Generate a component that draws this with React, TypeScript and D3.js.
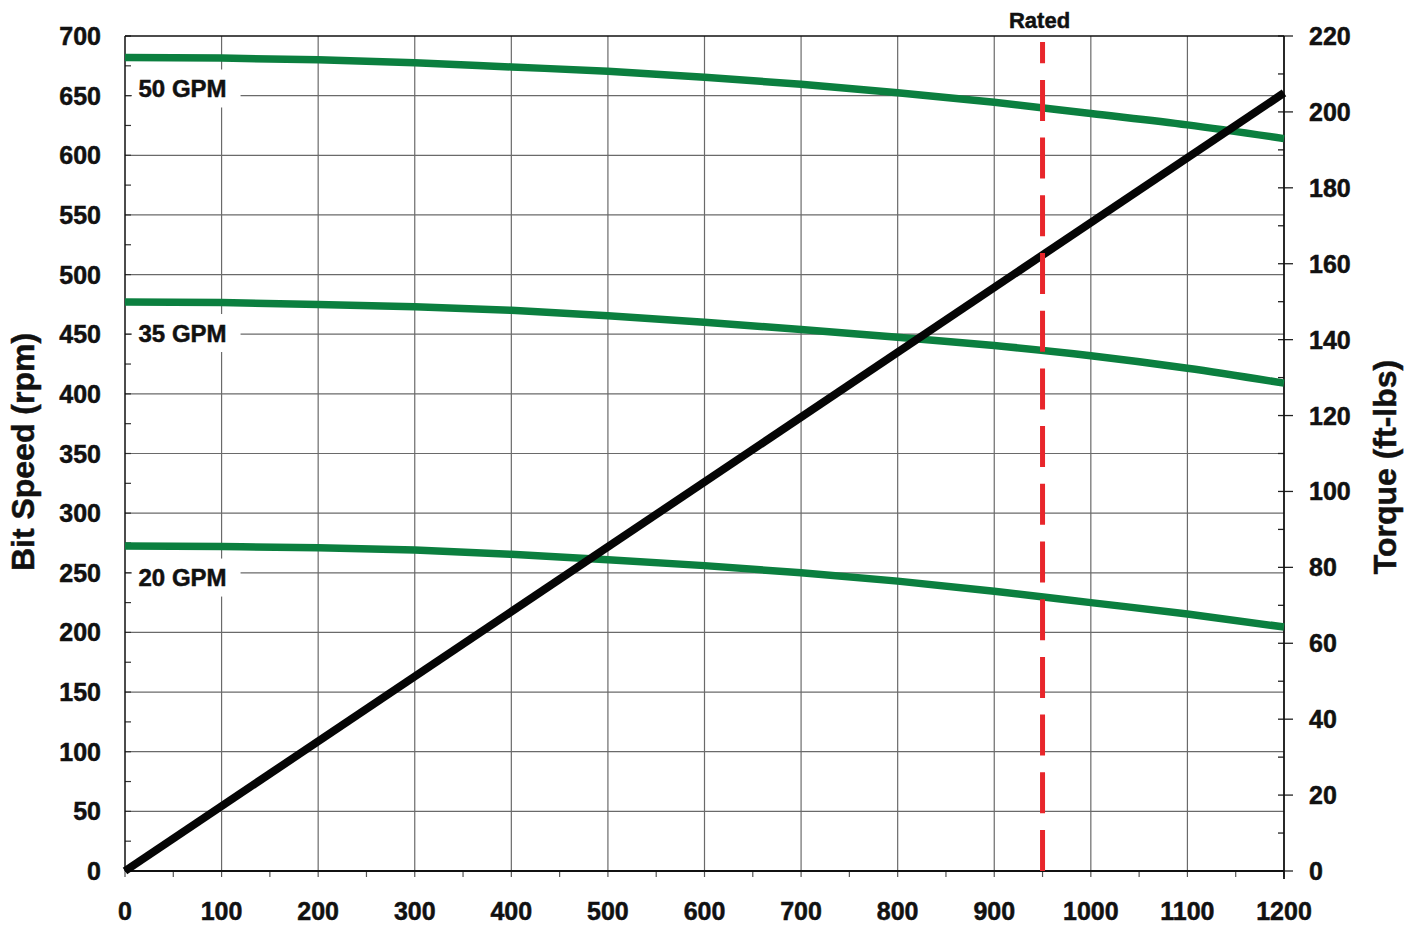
import React, { useEffect, useRef } from "react";
import * as d3 from "d3";

const flowX = [0, 100, 200, 300, 400, 500, 600, 700, 800, 900, 1000, 1100, 1200];
const gpm50 = [682, 681.5, 680, 677.5, 674, 670.5, 665.5, 659.5, 652.5, 644.5, 635, 625.5, 614];
const gpm35 = [477, 476.5, 475, 473, 470, 465.5, 460, 454, 447.5, 440.5, 432, 421.5, 409];
const gpm20 = [272.5, 272, 271, 269, 265.5, 261, 256, 250, 243, 234.5, 225, 215.5, 204.5];
const torqueX = [0, 1200];
const torqueY = [0, 205];
const ratedX = 950;
const ratedTop = 695;
const seriesLabels = ["50 GPM", "35 GPM", "20 GPM"];
const labelValues = [656, 451, 246];
const xTicks = [0, 100, 200, 300, 400, 500, 600, 700, 800, 900, 1000, 1100, 1200];
const yLeftTicks = [0, 50, 100, 150, 200, 250, 300, 350, 400, 450, 500, 550, 600, 650, 700];
const yRightTicks = [0, 20, 40, 60, 80, 100, 120, 140, 160, 180, 200, 220];

const W = 1413;
const H = 925;
const FONT = "'Liberation Sans', Arial, sans-serif";

export default function App() {
  const ref = useRef<SVGSVGElement>(null);
  useEffect(() => {
    const svg = d3.select(ref.current);
    svg.selectAll("*").remove();
    const L = 125, R = 1284, T = 36, B = 871;
    const x = d3.scaleLinear().domain([0, 1200]).range([L, R]);
    const y = d3.scaleLinear().domain([0, 700]).range([B, T]);
    const y2 = d3.scaleLinear().domain([0, 220]).range([B, T]);

    const txt = (sel: any, size: number) =>
      sel.attr("font-family", FONT).attr("font-weight", "bold").attr("font-size", size)
        .attr("fill", "#111").attr("stroke", "#111").attr("stroke-width", 0.5);

    const g = svg.append("g");
    // grid
    g.selectAll(".vg").data(xTicks.filter(v => v > 0 && v < 1200)).enter().append("line")
      .attr("x1", d => x(d)).attr("x2", d => x(d)).attr("y1", T).attr("y2", B)
      .attr("stroke", "#6a6a6a").attr("stroke-width", 1.2);
    g.selectAll(".hg").data(yLeftTicks.filter(v => v > 0 && v < 700)).enter().append("line")
      .attr("x1", L).attr("x2", R).attr("y1", d => y(d)).attr("y2", d => y(d))
      .attr("stroke", "#6a6a6a").attr("stroke-width", 1.2);

    // left minor/major ticks (inside)
    g.selectAll(".lt").data(d3.range(0, 701, 25)).enter().append("line")
      .attr("x1", L).attr("x2", L + 6).attr("y1", d => y(d)).attr("y2", d => y(d))
      .attr("stroke", "#333").attr("stroke-width", 1.2);
    // bottom ticks (outside)
    g.selectAll(".bt").data(d3.range(0, 1201, 50)).enter().append("line")
      .attr("x1", d => x(d)).attr("x2", d => x(d)).attr("y1", B).attr("y2", B + 6)
      .attr("stroke", "#555").attr("stroke-width", 1.2);
    // right ticks
    g.selectAll(".rtm").data(d3.range(0, 221, 10)).enter().append("line")
      .attr("x1", R - 6).attr("x2", d => (d % 20 === 0 ? R + 9 : R)).attr("y1", d => y2(d)).attr("y2", d => y2(d))
      .attr("stroke", "#222").attr("stroke-width", 1.3);

    // frame
    g.append("line").attr("x1", L).attr("x2", R).attr("y1", T).attr("y2", T).attr("stroke", "#111").attr("stroke-width", 1.3);
    g.append("line").attr("x1", L).attr("x2", L).attr("y1", T).attr("y2", B).attr("stroke", "#111").attr("stroke-width", 1.5);
    g.append("line").attr("x1", L).attr("x2", R).attr("y1", B).attr("y2", B).attr("stroke", "#111").attr("stroke-width", 1.8);
    g.append("line").attr("x1", R).attr("x2", R).attr("y1", T).attr("y2", B + 8).attr("stroke", "#111").attr("stroke-width", 1.8);

    // labels with white boxes
    seriesLabels.forEach((lab, i) => {
      const ty = y(labelValues[i]);
      const t = txt(g.append("text").text(lab).attr("x", x(14)).attr("y", ty).attr("dy", "0.36em"), 24);
      const bb = (t.node() as SVGTextElement).getBBox();
      g.insert("rect", "text").attr("x", L + 7).attr("y", ty - 19).attr("width", bb.x + bb.width + 14 - (L + 7)).attr("height", 38).attr("fill", "#fff");
    });

    // green curves
    const line = d3.line<number>().x((_, i) => x(flowX[i])).y(d => y(d)).curve(d3.curveMonotoneX);
    [gpm50, gpm35, gpm20].forEach(s => {
      g.append("path").attr("d", line(s)).attr("fill", "none").attr("stroke", "#0b7f3f").attr("stroke-width", 7.5);
    });

    // torque line
    const tl = d3.line<number>().x((_, i) => x(torqueX[i])).y(d => y2(d));
    g.append("path").attr("d", tl(torqueY)).attr("fill", "none").attr("stroke", "#050505").attr("stroke-width", 8);

    // rated dashed line (drawn bottom-up)
    g.append("line").attr("x1", x(ratedX)).attr("x2", x(ratedX)).attr("y1", y(0)).attr("y2", y(ratedTop))
      .attr("stroke", "#e8262b").attr("stroke-width", 5).attr("stroke-dasharray", "41 16.7");
    txt(g.append("text").text("Rated").attr("x", x(ratedX) - 3).attr("y", 28).attr("text-anchor", "middle"), 22);

    // tick labels
    txt(g.selectAll(".xl").data(xTicks).enter().append("text").text(d => String(d))
      .attr("x", d => x(d)).attr("y", 920).attr("text-anchor", "middle"), 25);
    txt(g.selectAll(".yl").data(yLeftTicks).enter().append("text").text(d => String(d))
      .attr("x", 101).attr("y", d => y(d)).attr("dy", "0.36em").attr("text-anchor", "end"), 25);
    txt(g.selectAll(".yr").data(yRightTicks).enter().append("text").text(d => String(d))
      .attr("x", 1309).attr("y", d => y2(d)).attr("dy", "0.36em").attr("text-anchor", "start"), 25);

    // axis titles
    txt(g.append("text").text("Bit Speed (rpm)").attr("transform", `translate(34,452) rotate(-90)`)
      .attr("text-anchor", "middle"), 32);
    txt(g.append("text").text("Torque (ft-lbs)").attr("transform", `translate(1396,467) rotate(-90)`)
      .attr("text-anchor", "middle"), 32);
  }, []);
  return (
    <div style={{ position: "absolute", left: 0, top: 0 }}>
      <svg ref={ref} width={W} height={H} style={{ display: "block", background: "#fff" }} />
    </div>
  );
}
